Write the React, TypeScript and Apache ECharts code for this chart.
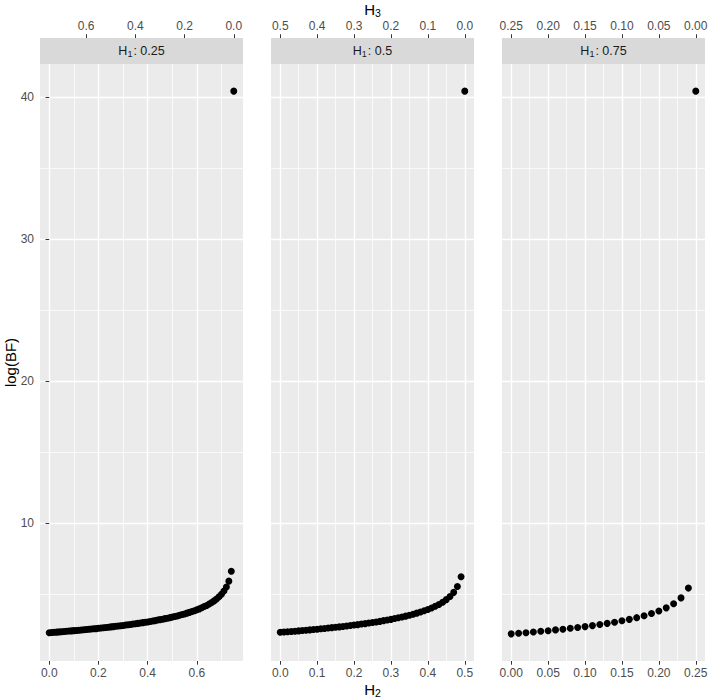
import React, { useEffect, useRef } from 'react';
import * as echarts from 'echarts';

// ---------- data ----------
const H1_LEVELS = [0.25, 0.5, 0.75];
const STRIP_VALUES = ['0.25', '0.5', '0.75'];

// log(BF) for H2 = 0, 0.01, 0.02, ... (last point is H3 = 0)
const LOGBF_H1_025 = [
  2.30, 2.32, 2.33, 2.34, 2.36, 2.37, 2.39, 2.40, 2.42, 2.43,
  2.45, 2.46, 2.48, 2.49, 2.51, 2.53, 2.54, 2.56, 2.58, 2.59,
  2.61, 2.63, 2.65, 2.67, 2.69, 2.71, 2.73, 2.75, 2.77, 2.79,
  2.81, 2.84, 2.86, 2.88, 2.91, 2.93, 2.96, 2.98, 3.01, 3.04,
  3.06, 3.09, 3.12, 3.15, 3.19, 3.22, 3.25, 3.29, 3.32, 3.36,
  3.40, 3.44, 3.48, 3.53, 3.58, 3.62, 3.68, 3.73, 3.79, 3.85,
  3.91, 3.98, 4.06, 4.14, 4.22, 4.32, 4.42, 4.54, 4.67, 4.83,
  5.01, 5.23, 5.52, 5.93, 6.62, 40.4,
];
const LOGBF_H1_050 = [
  2.33, 2.35, 2.37, 2.39, 2.41, 2.43, 2.46, 2.48, 2.50, 2.53,
  2.55, 2.58, 2.60, 2.63, 2.66, 2.68, 2.71, 2.74, 2.77, 2.81,
  2.84, 2.87, 2.91, 2.94, 2.98, 3.02, 3.06, 3.10, 3.15, 3.20,
  3.24, 3.30, 3.35, 3.41, 3.47, 3.53, 3.60, 3.68, 3.76, 3.84,
  3.94, 4.04, 4.16, 4.29, 4.45, 4.63, 4.85, 5.14, 5.55, 6.24,
  40.4,
];
const LOGBF_H1_075 = [
  2.22, 2.26, 2.30, 2.35, 2.40, 2.44, 2.50, 2.55, 2.61, 2.67,
  2.73, 2.80, 2.88, 2.96, 3.04, 3.14, 3.24, 3.36, 3.49, 3.65,
  3.83, 4.05, 4.34, 4.75, 5.44, 40.4,
];
const LOGBF = [LOGBF_H1_025, LOGBF_H1_050, LOGBF_H1_075];
const H2_STEP = 0.01;

const X_MAJOR_TICKS = [
  [0, 0.2, 0.4, 0.6],
  [0, 0.1, 0.2, 0.3, 0.4, 0.5],
  [0, 0.05, 0.1, 0.15, 0.2, 0.25],
];
const X_MINOR_TICKS = [
  [0.1, 0.3, 0.5, 0.7],
  [0.05, 0.15, 0.25, 0.35, 0.45],
  [0.025, 0.075, 0.125, 0.175, 0.225],
];
const H3_TICKS = [
  [0, 0.2, 0.4, 0.6],
  [0, 0.1, 0.2, 0.3, 0.4, 0.5],
  [0, 0.05, 0.1, 0.15, 0.2, 0.25],
];
const TICK_DECIMALS = [1, 1, 2];
const Y_MAJOR_TICKS = [10, 20, 30, 40];
const Y_MINOR_TICKS = [5, 15, 25, 35];

// ---------- layout ----------
const W = 708;
const H = 698;
const PANEL_LEFT = [40, 271, 502];
const PANEL_W = 203;
const PANEL_TOP = 64;
const PANEL_H = 597;
const STRIP_H = 26;
const FONT = '"Liberation Sans", Arial, Helvetica, sans-serif';
const TICK_FS = 12;
const STRIP_FS = 12.5;
const TITLE_FS = 15;

export default function App() {
  const ref = useRef<HTMLDivElement>(null);

  useEffect(() => {
    if (!ref.current) return;
    const chart = echarts.init(ref.current, undefined, { renderer: 'svg', width: W, height: H });

    const all = LOGBF.flat();
    const yMinD = Math.min(...all);
    const yMaxD = Math.max(...all);
    const yPad = (yMaxD - yMinD) * 0.05;
    const yMin = yMinD - yPad;
    const yMax = yMaxD + yPad;

    const grids: any[] = [];
    const xAxes: any[] = [];
    const yAxes: any[] = [];
    const series: any[] = [];
    const graphics: any[] = [];

    H1_LEVELS.forEach((h1, i) => {
      const R = 1 - h1;
      const xMin = -0.05 * R;
      const xMax = 1.05 * R;
      const dec = TICK_DECIMALS[i];
      grids.push({
        left: PANEL_LEFT[i], top: PANEL_TOP, width: PANEL_W, height: PANEL_H,
        show: true, backgroundColor: '#EBEBEB', borderWidth: 0,
        containLabel: false, outerBoundsMode: 'none',
      });
      // minor x
      xAxes.push({
        type: 'value', gridIndex: i, position: 'bottom', min: xMin, max: xMax,
        axisLine: { show: false }, axisTick: { show: false, customValues: X_MINOR_TICKS[i] },
        axisLabel: { show: false, customValues: X_MINOR_TICKS[i] },
        splitLine: { show: true, lineStyle: { color: '#FFFFFF', width: 0.7 } },
      });
      // major x (H2)
      xAxes.push({
        type: 'value', gridIndex: i, position: 'bottom', min: xMin, max: xMax,
        axisLine: { show: false },
        axisTick: { show: true, length: 3.7, lineStyle: { color: '#333333', width: 1 }, customValues: X_MAJOR_TICKS[i] },
        axisLabel: {
          show: true, margin: 6, color: '#4D4D4D', fontSize: TICK_FS, fontFamily: FONT,
          customValues: X_MAJOR_TICKS[i], formatter: (v: number) => v.toFixed(dec),
        },
        splitLine: { show: true, lineStyle: { color: '#FFFFFF', width: 1.4 } },
      });
      // top H3 axis
      xAxes.push({
        type: 'value', gridIndex: i, position: 'top', offset: STRIP_H, inverse: true, min: xMin, max: xMax,
        axisLine: { show: false },
        axisTick: { show: true, length: 3.7, lineStyle: { color: '#333333', width: 1 }, customValues: H3_TICKS[i] },
        axisLabel: {
          show: true, margin: 6, color: '#4D4D4D', fontSize: TICK_FS, fontFamily: FONT,
          customValues: H3_TICKS[i], formatter: (v: number) => Math.abs(v).toFixed(dec),
        },
        splitLine: { show: false },
      });
      // minor y
      yAxes.push({
        type: 'value', gridIndex: i, position: 'left', min: yMin, max: yMax,
        axisLine: { show: false }, axisTick: { show: false, customValues: Y_MINOR_TICKS },
        axisLabel: { show: false, customValues: Y_MINOR_TICKS },
        splitLine: { show: true, lineStyle: { color: '#FFFFFF', width: 0.7 } },
      });
      // major y
      yAxes.push({
        type: 'value', gridIndex: i, position: 'left', min: yMin, max: yMax,
        axisLine: { show: false },
        axisTick: { show: i === 0, length: 3.7, lineStyle: { color: '#333333', width: 1 }, customValues: Y_MAJOR_TICKS },
        axisLabel: {
          show: i === 0, margin: 6, color: '#4D4D4D', fontSize: TICK_FS, fontFamily: FONT,
          customValues: Y_MAJOR_TICKS,
        },
        splitLine: { show: true, lineStyle: { color: '#FFFFFF', width: 1.4 } },
      });

      series.push({
        type: 'scatter',
        xAxisIndex: 3 * i + 1,
        yAxisIndex: 2 * i + 1,
        symbol: 'circle',
        symbolSize: 7,
        itemStyle: { color: '#000000', opacity: 1 },
        data: LOGBF[i].map((v, k) => [k * H2_STEP, v]),
        silent: true,
      });

      // strip
      graphics.push({
        type: 'rect',
        shape: { x: PANEL_LEFT[i], y: PANEL_TOP - STRIP_H, width: PANEL_W, height: STRIP_H },
        style: { fill: '#D9D9D9' },
        silent: true,
      });
      graphics.push({
        type: 'text',
        x: PANEL_LEFT[i] + PANEL_W / 2,
        y: PANEL_TOP - STRIP_H / 2,
        style: {
          text: `{n|H}{s|1}{n|: ${STRIP_VALUES[i]}}`,
          align: 'center', verticalAlign: 'middle',
          rich: {
            n: { fontSize: STRIP_FS, fontFamily: FONT, fill: '#1A1A1A', lineHeight: 15 },
            s: { fontSize: 9, fontFamily: FONT, fill: '#1A1A1A', padding: [6, 1, 0, 0], lineHeight: 10 },
          },
        },
        silent: true,
      });
    });

    const titleRich = {
      n: { fontSize: TITLE_FS, fontFamily: FONT, fill: '#000000', lineHeight: 18 },
      s: { fontSize: 10.5, fontFamily: FONT, fill: '#000000', padding: [7, 0, 0, 0], lineHeight: 12 },
    };
    const centerX = (PANEL_LEFT[0] + PANEL_LEFT[2] + PANEL_W) / 2;
    graphics.push({
      type: 'text', x: centerX, y: 9,
      style: { text: '{n|H}{s|3}', align: 'center', verticalAlign: 'middle', rich: titleRich },
      silent: true,
    });
    graphics.push({
      type: 'text', x: centerX, y: 689,
      style: { text: '{n|H}{s|2}', align: 'center', verticalAlign: 'middle', rich: titleRich },
      silent: true,
    });
    graphics.push({
      type: 'text', x: 10, y: PANEL_TOP + PANEL_H / 2, rotation: Math.PI / 2,
      style: {
        text: 'log(BF)', align: 'center', verticalAlign: 'middle',
        fontSize: TITLE_FS, fontFamily: FONT, fill: '#000000',
      },
      silent: true,
    });

    chart.setOption({
      animation: false,
      backgroundColor: '#FFFFFF',
      grid: grids,
      xAxis: xAxes,
      yAxis: yAxes,
      series,
      graphic: graphics,
    });

    return () => chart.dispose();
  }, []);

  return (
    <div
      ref={ref}
      style={{ position: 'fixed', left: 0, top: 0, width: W, height: H, background: '#FFFFFF' }}
    />
  );
}
